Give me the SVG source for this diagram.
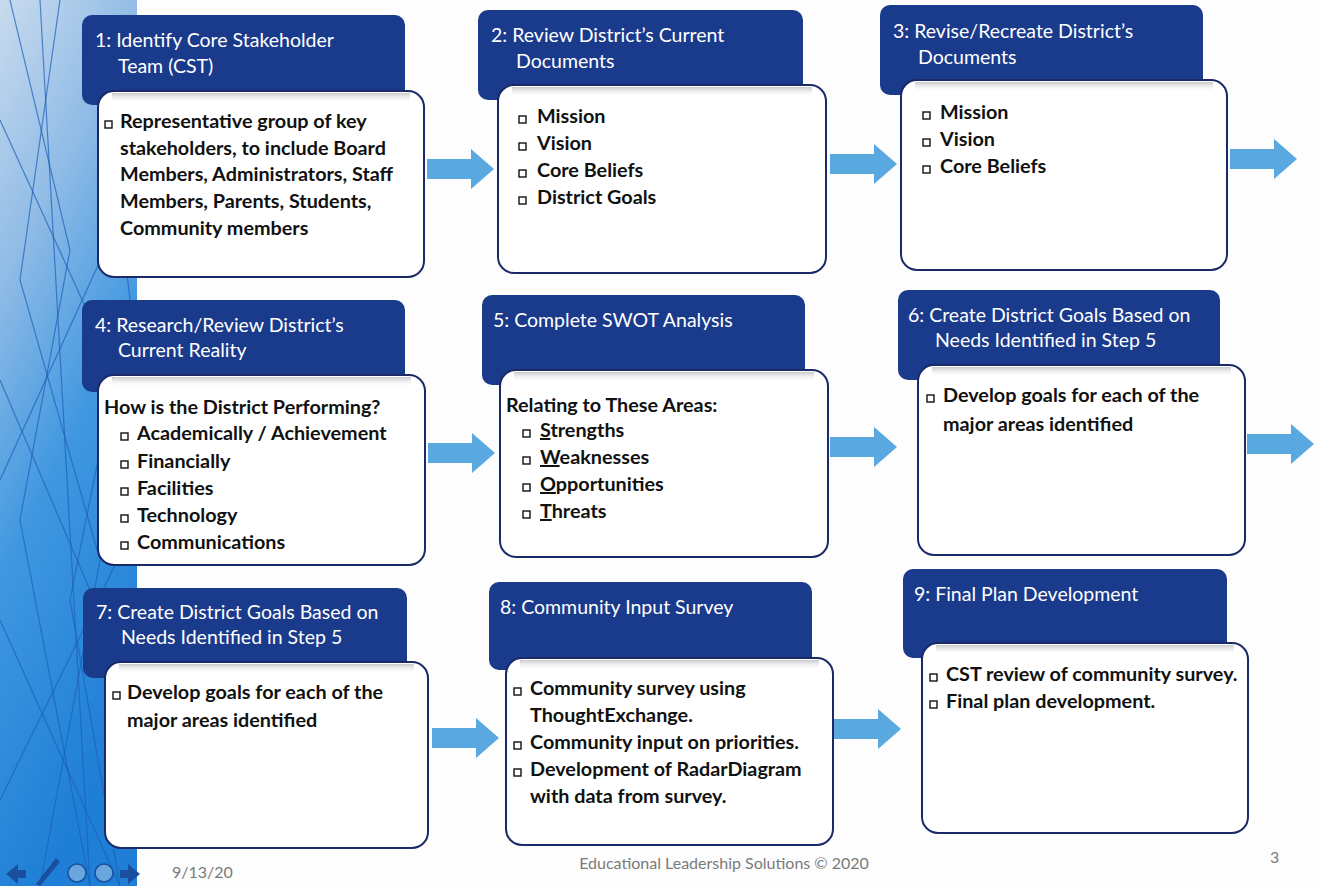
<svg xmlns="http://www.w3.org/2000/svg" width="1320" height="886" viewBox="0 0 1320 886">
<defs>
<linearGradient id="strip" x1="0" y1="0" x2="0.3" y2="1">
<stop offset="0" stop-color="#c9dbee"/>
<stop offset="0.3" stop-color="#8fbbe6"/>
<stop offset="0.6" stop-color="#3f97e0"/>
<stop offset="1" stop-color="#1f7fd6"/>
</linearGradient>
<linearGradient id="shade" x1="0" y1="0" x2="0" y2="1">
<stop offset="0" stop-color="#c8c8cc"/>
<stop offset="1" stop-color="#ffffff" stop-opacity="0"/>
</linearGradient>
<path id="arr" d="M0,-10 H44 V-20 L67,0 L44,20 V10 H0 Z"/>
<style>
.hdr{fill:#1a3a8c;}
.box{fill:#ffffff;stroke:#1b2a66;stroke-width:2;}
.ht{font-family:Lato,"Liberation Sans",sans-serif;font-size:19.5px;fill:#ffffff;}
.bt{font-family:Lato,"Liberation Sans",sans-serif;font-size:19.8px;font-weight:bold;fill:#111111;}
.bul{fill:none;stroke:#111111;stroke-width:1.4;}
.arrow{fill:#5aa8e0;}
.ft{font-family:Lato,"Liberation Sans",sans-serif;font-size:16px;fill:#7a7a7a;}
.sl{stroke:#1d5fb8;stroke-width:1.2;fill:none;opacity:0.7;}
</style>
</defs>
<rect width="1320" height="886" fill="#fdfdfd"/>
<g id="strip-bg">
<rect x="0" y="0" width="137" height="886" fill="url(#strip)"/>
<path class="sl" d="M10,0 L70,250 L20,520 L90,886"/>
<path class="sl" d="M60,0 L20,280 L100,560 L40,886"/>
<path class="sl" d="M100,40 L130,300 L70,600 L120,886"/>
<path class="sl" d="M0,120 L137,420"/>
<path class="sl" d="M0,380 L137,700"/>
<path class="sl" d="M0,620 L120,886"/>
<path class="sl" d="M137,180 L0,480"/>
<path class="sl" d="M137,520 L0,800"/>
<path class="sl" d="M40,0 L90,886"/>
</g>
<g id="nav-icons" fill="#1a4fa0">
<path d="M6,874 L18,864 V870 H26 V878 H18 V884 Z"/>
<path d="M36,884 L56,858 L60,862 L40,886 Z"/>
<circle cx="77" cy="873" r="9" fill="#6aa6de" stroke="#1a4fa0" stroke-width="1.5"/>
<circle cx="104" cy="873" r="9" fill="#6aa6de" stroke="#1a4fa0" stroke-width="1.5"/>
<path d="M140,874 L128,864 V870 H120 V878 H128 V884 Z"/>
</g>
<g id="connectors" class="arrow">
<use href="#arr" x="427" y="169"/>
<use href="#arr" x="830" y="164"/>
<use href="#arr" x="1230" y="159"/>
<use href="#arr" x="428" y="453"/>
<use href="#arr" x="830" y="447"/>
<use href="#arr" x="1247" y="444"/>
<use href="#arr" x="432" y="738"/>
<use href="#arr" x="834" y="729"/>
</g>
<g id="node1">
<rect class="hdr" x="82" y="15" width="323" height="90" rx="10"/>
<text class="ht" x="95" y="47">1: Identify Core Stakeholder</text>
<text class="ht" x="118" y="73">Team (CST)</text>
<rect class="box" x="98" y="91" width="326" height="186" rx="16"/>
<rect x="112" y="93" width="298" height="10" fill="url(#shade)"/>
<rect class="bul" x="105" y="121" width="7" height="7"/>
<text class="bt" x="120" y="128">Representative group of key</text>
<text class="bt" x="120" y="155">stakeholders, to include Board</text>
<text class="bt" x="120" y="181">Members, Administrators, Staff</text>
<text class="bt" x="120" y="208">Members, Parents, Students,</text>
<text class="bt" x="120" y="235">Community members</text>
</g>
<g id="node2">
<rect class="hdr" x="478" y="10" width="325" height="90" rx="10"/>
<text class="ht" x="491" y="42">2: Review District’s Current</text>
<text class="ht" x="516" y="68">Documents</text>
<rect class="box" x="498" y="85" width="328" height="188" rx="16"/>
<rect x="512" y="87" width="300" height="10" fill="url(#shade)"/>
<rect class="bul" x="519" y="116" width="7" height="7"/>
<text class="bt" x="537" y="123">Mission</text>
<rect class="bul" x="519" y="143" width="7" height="7"/>
<text class="bt" x="537" y="150">Vision</text>
<rect class="bul" x="519" y="170" width="7" height="7"/>
<text class="bt" x="537" y="177">Core Beliefs</text>
<rect class="bul" x="519" y="197" width="7" height="7"/>
<text class="bt" x="537" y="204">District Goals</text>
</g>
<g id="node3">
<rect class="hdr" x="880" y="5" width="323" height="90" rx="10"/>
<text class="ht" x="893" y="38">3: Revise/Recreate District’s</text>
<text class="ht" x="918" y="64">Documents</text>
<rect class="box" x="901" y="80" width="326" height="190" rx="16"/>
<rect x="915" y="82" width="298" height="10" fill="url(#shade)"/>
<rect class="bul" x="923" y="112" width="7" height="7"/>
<text class="bt" x="940" y="119">Mission</text>
<rect class="bul" x="923" y="139" width="7" height="7"/>
<text class="bt" x="940" y="146">Vision</text>
<rect class="bul" x="923" y="166" width="7" height="7"/>
<text class="bt" x="940" y="173">Core Beliefs</text>
</g>
<g id="node4">
<rect class="hdr" x="82" y="300" width="323" height="92" rx="10"/>
<text class="ht" x="95" y="332">4: Research/Review District’s</text>
<text class="ht" x="118" y="357">Current Reality</text>
<rect class="box" x="98" y="375" width="327" height="190" rx="16"/>
<rect x="112" y="377" width="299" height="10" fill="url(#shade)"/>
<text class="bt" x="104" y="414">How is the District Performing?</text>
<rect class="bul" x="121" y="433" width="7" height="7"/>
<text class="bt" x="137" y="440">Academically / Achievement</text>
<rect class="bul" x="121" y="461" width="7" height="7"/>
<text class="bt" x="137" y="468">Financially</text>
<rect class="bul" x="121" y="488" width="7" height="7"/>
<text class="bt" x="137" y="495">Facilities</text>
<rect class="bul" x="121" y="515" width="7" height="7"/>
<text class="bt" x="137" y="522">Technology</text>
<rect class="bul" x="121" y="542" width="7" height="7"/>
<text class="bt" x="137" y="549">Communications</text>
</g>
<g id="node5">
<rect class="hdr" x="482" y="295" width="323" height="90" rx="10"/>
<text class="ht" x="493" y="327">5: Complete SWOT Analysis</text>
<rect class="box" x="500" y="370" width="328" height="187" rx="16"/>
<rect x="514" y="372" width="300" height="10" fill="url(#shade)"/>
<text class="bt" x="506" y="412">Relating to These Areas:</text>
<rect class="bul" x="523" y="430" width="7" height="7"/>
<text class="bt" x="540" y="437"><tspan text-decoration="underline">S</tspan>trengths</text>
<rect class="bul" x="523" y="457" width="7" height="7"/>
<text class="bt" x="540" y="464"><tspan text-decoration="underline">W</tspan>eaknesses</text>
<rect class="bul" x="523" y="484" width="7" height="7"/>
<text class="bt" x="540" y="491"><tspan text-decoration="underline">O</tspan>pportunities</text>
<rect class="bul" x="523" y="511" width="7" height="7"/>
<text class="bt" x="540" y="518"><tspan text-decoration="underline">T</tspan>hreats</text>
</g>
<g id="node6">
<rect class="hdr" x="898" y="290" width="322" height="90" rx="10"/>
<text class="ht" x="908" y="322">6: Create District Goals Based on</text>
<text class="ht" x="935" y="347">Needs Identified in Step 5</text>
<rect class="box" x="918" y="365" width="327" height="190" rx="16"/>
<rect x="932" y="367" width="299" height="10" fill="url(#shade)"/>
<rect class="bul" x="927" y="395" width="7" height="7"/>
<text class="bt" x="943" y="402">Develop goals for each of the</text>
<text class="bt" x="943" y="431">major areas identified</text>
</g>
<g id="node7">
<rect class="hdr" x="83" y="588" width="324" height="90" rx="10"/>
<text class="ht" x="96" y="619">7: Create District Goals Based on</text>
<text class="ht" x="121" y="644">Needs Identified in Step 5</text>
<rect class="box" x="105" y="662" width="323" height="186" rx="16"/>
<rect x="119" y="664" width="295" height="10" fill="url(#shade)"/>
<rect class="bul" x="113" y="692" width="7" height="7"/>
<text class="bt" x="127" y="699">Develop goals for each of the</text>
<text class="bt" x="127" y="727">major areas identified</text>
</g>
<g id="node8">
<rect class="hdr" x="489" y="582" width="323" height="88" rx="10"/>
<text class="ht" x="500" y="614">8: Community Input Survey</text>
<rect class="box" x="506" y="658" width="327" height="187" rx="16"/>
<rect x="520" y="660" width="299" height="10" fill="url(#shade)"/>
<rect class="bul" x="514" y="688" width="7" height="7"/>
<text class="bt" x="530" y="695">Community survey using</text>
<text class="bt" x="530" y="722">ThoughtExchange.</text>
<rect class="bul" x="514" y="742" width="7" height="7"/>
<text class="bt" x="530" y="749">Community input on priorities.</text>
<rect class="bul" x="514" y="769" width="7" height="7"/>
<text class="bt" x="530" y="776">Development of RadarDiagram</text>
<text class="bt" x="530" y="803">with data from survey.</text>
</g>
<g id="node9">
<rect class="hdr" x="903" y="569" width="324" height="89" rx="10"/>
<text class="ht" x="914" y="601">9: Final Plan Development</text>
<rect class="box" x="922" y="643" width="326" height="190" rx="16"/>
<rect x="936" y="645" width="298" height="10" fill="url(#shade)"/>
<rect class="bul" x="930" y="674" width="7" height="7"/>
<text class="bt" x="946" y="681">CST review of community survey.</text>
<rect class="bul" x="930" y="701" width="7" height="7"/>
<text class="bt" x="946" y="708">Final plan development.</text>
</g>
<g id="footer">
<text class="ft" x="172" y="878">9/13/20</text>
<text class="ft" x="724" y="869" text-anchor="middle">Educational Leadership Solutions © 2020</text>
<text class="ft" x="1270" y="863">3</text>
</g>
</svg>
